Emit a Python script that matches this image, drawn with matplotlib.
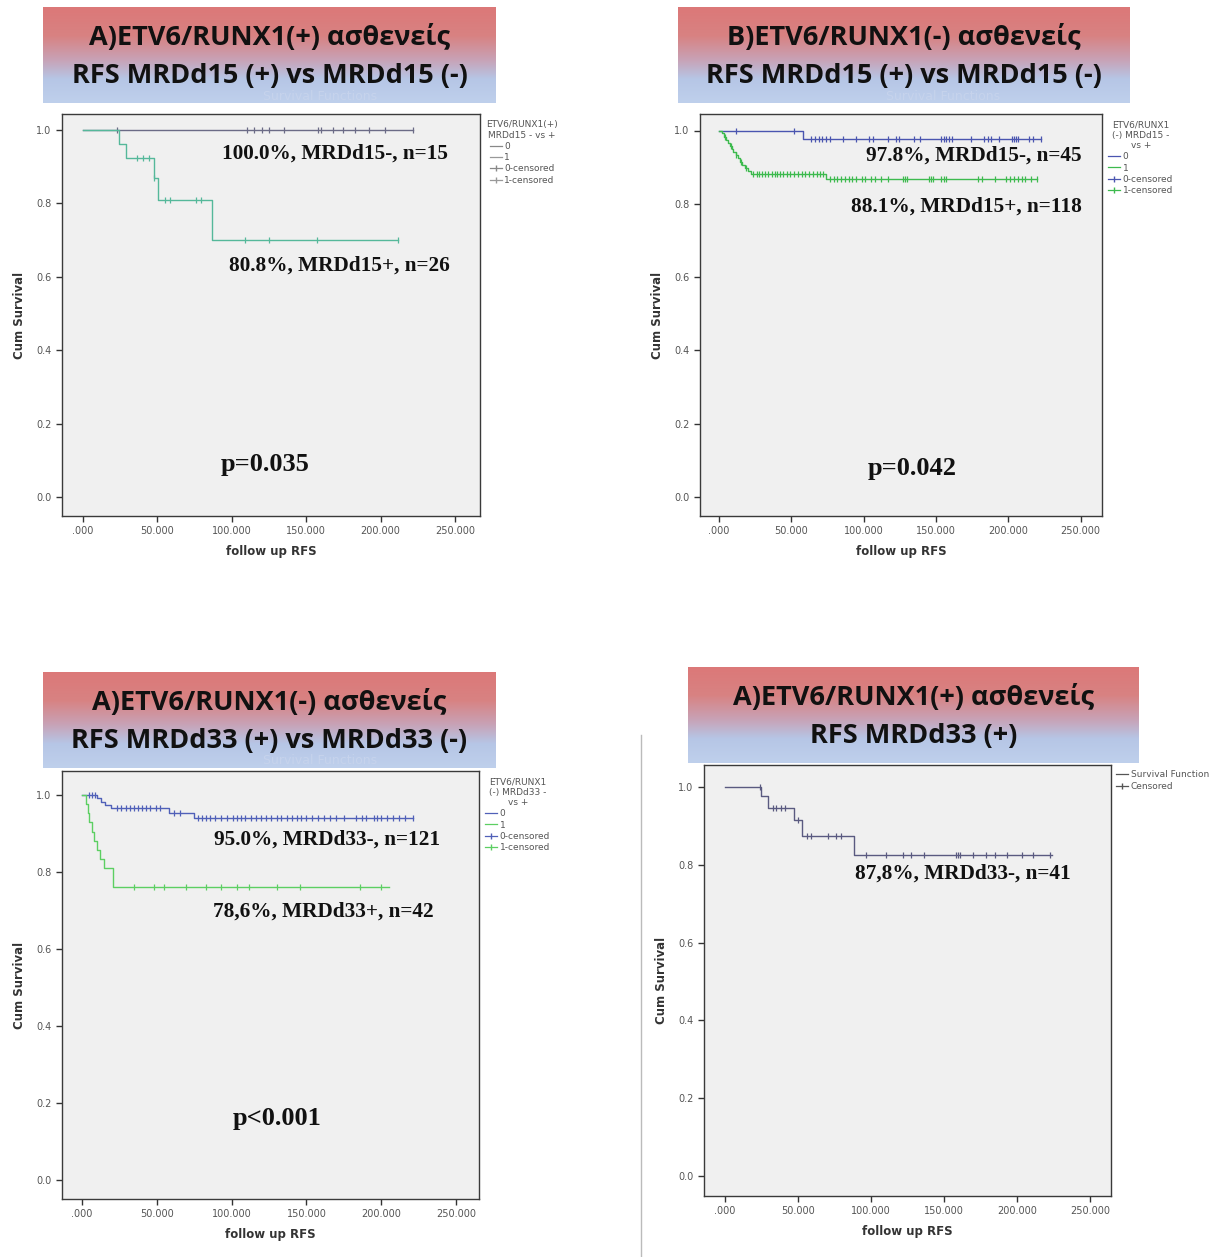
import numpy as np
import matplotlib
matplotlib.use("Agg")
import matplotlib.pyplot as plt
from matplotlib.colors import LinearSegmentedColormap
from matplotlib.lines import Line2D

W, H = 1229, 1257

# ---- data ----
# panel A: ETV6/RUNX1(+) MRDd15
a_neg_events, a_neg_surv, a_neg_end = [], [], 222
a_neg_cens = [23, 110, 115, 120, 125, 135, 158, 160, 168, 175, 183, 192, 203, 222]
a_pos_events = [24, 29, 48, 50.5, 87]
a_pos_surv = [0.962, 0.923, 0.870, 0.808, 0.700]
a_pos_end = 212
a_pos_cens = [36.5, 40.5, 44.5, 48, 55, 58.5, 76, 79.5, 109, 125, 157, 212]

# panel B: ETV6/RUNX1(-) MRDd15
b_neg_events, b_neg_surv, b_neg_end = [58.4], [0.978], 223
b_neg_cens = [11.7, 51.9, 63.6, 66.2, 68.9, 71.4, 74.0, 76.6, 85.7, 94.8, 103.9, 106.5,
              116.9, 122.1, 124.7, 135.1, 139.0, 153.3, 155.4, 157.2, 159.0, 161.1,
              174.1, 183.2, 185.8, 188.4, 193.6, 202.7, 204.0, 205.3, 206.6, 214.4,
              217.0, 223.0]
b_pos_events = [2, 3.5, 5, 6, 7.5, 9, 10, 11.5, 13, 14.5, 16, 18, 20, 22, 74]
b_pos_surv = [0.992, 0.983, 0.975, 0.966, 0.958, 0.949, 0.941, 0.932, 0.924, 0.915,
              0.907, 0.898, 0.890, 0.881, 0.868]
b_pos_end = 220
b_pos_cens = [4, 8, 12, 15, 19, 23.4, 26, 28, 29.9, 31.7, 33.8, 36.4, 38.4, 40.3, 42.1,
              44.2, 46.8, 49.4, 52, 54.6, 57.2, 59.8, 62.4, 65, 67.6, 69.6, 72.2,
              76.7, 79.3, 81.9, 84.5, 87.1, 89.7, 92.2, 94.8, 98.7, 101.3, 105.2, 107.8,
              111.7, 116.9, 127.3, 128.6, 129.9, 145.5, 146.8, 148.1, 153.3, 155.9,
              157.2, 179.3, 181.9, 191, 198.8, 201.4, 204, 206.6, 209.2, 211.8, 215.7,
              219.6]

# panel C: ETV6/RUNX1(-) MRDd33
c_neg_events = [10, 12.6, 15.2, 19.2, 58.3, 74.7]
c_neg_surv = [0.992, 0.983, 0.975, 0.967, 0.954, 0.940]
c_neg_end = 221
c_neg_cens = [5, 7, 9, 23.1, 25.8, 29.2, 32.4, 35, 37.7, 40.3, 43, 45.6, 49.6, 52.2,
              61.4, 65.4, 77.3, 80.5, 83.1, 85.8, 89.2, 93.2, 97.1, 101.1, 103.7, 106.4,
              109, 113, 116.4, 119.6, 122.7, 126.2, 130.1, 133.3, 136.7, 140.2, 143.4,
              146.5, 150, 153.9, 157.9, 161.8, 165.8, 169.8, 175.1, 183, 187, 189.6,
              194.9, 197.5, 200.2, 204.1, 208.1, 212, 216, 221.3]
c_pos_events = [3, 4, 5, 6.5, 8, 10, 12, 15, 21]
c_pos_surv = [0.976, 0.952, 0.929, 0.905, 0.881, 0.857, 0.833, 0.810, 0.762]
c_pos_end = 205
c_pos_cens = [35, 48.2, 54.8, 69.4, 82.6, 93.2, 103.7, 111.6, 130.1, 146, 185.6, 200.2]

# panel D: ETV6/RUNX1(+) MRDd33
d_events = [24.7, 29.4, 47.4, 52.5, 88.1]
d_surv = [0.976, 0.946, 0.916, 0.874, 0.826]
d_end = 224
d_cens = [23.7, 33.2, 35, 38.4, 41, 50, 56.4, 59, 70.6, 75.7, 79.6, 96.3, 110.5, 122.1,
          127.2, 136.2, 158.1, 159.4, 160.7, 169.7, 178.7, 185.1, 192.9, 203.2, 210.9,
          222.5]

xticks = [0, 50, 100, 150, 200, 250]
xtick_labels = [".000", "50.000", "100.000", "150.000", "200.000", "250.000"]
yticks = [0.0, 0.2, 0.4, 0.6, 0.8, 1.0]

fig = plt.figure(figsize=(W / 100, H / 100), dpi=100)
fig.patch.set_facecolor("white")


def fx(x):
    return x / W


def fy(y):
    return 1 - y / H


def make_axes(L, R, T, B, x0, x250, y1, y0):
    ax = fig.add_axes([fx(L), fy(B), (R - L) / W, (B - T) / H])
    ux = 250 / (x250 - x0)
    uy = 1 / (y0 - y1)
    ax.set_xlim((L - x0) * ux, (R - x0) * ux)
    ax.set_ylim(-(B - y0) * uy, 1 + (y1 - T) * uy)
    ax.set_facecolor("#f0f0f0")
    for s in ax.spines.values():
        s.set_color("#3a3a3a")
        s.set_linewidth(1.0)
    ax.set_xticks(xticks)
    ax.set_xticklabels(xtick_labels)
    ax.set_yticks(yticks)
    ax.set_yticklabels([f"{v:.1f}" for v in yticks])
    ax.tick_params(labelsize=7, colors="#333333", labelcolor="#555555", length=4, width=1)
    ax.set_xlabel("follow up RFS", fontsize=8.5, fontweight="bold", color="#333333", labelpad=6)
    ax.set_ylabel("Cum Survival", fontsize=8.5, fontweight="bold", color="#333333", labelpad=7)
    return ax


def km(ax, events, surv, end, cens, color):
    t = [0] + list(events) + [end]
    s = [1.0] + list(surv) + [surv[-1] if surv else 1.0]
    ax.step(t, s, where="post", color=color, lw=1.0)
    idx = np.searchsorted(np.array(t), np.array(cens), side="right") - 1
    cy = np.array(s)[np.clip(idx, 0, len(s) - 1)]
    ax.plot(cens, cy, ls="none", marker="|", ms=5, mew=0.9, color=color)


def title_box(L, R, T, B, line1, line2):
    bax = fig.add_axes([fx(L), fy(B), (R - L) / W, (B - T) / H])
    cmap = LinearSegmentedColormap.from_list(
        "rb", [(0, "#dc7878"), (0.3, "#d88282"), (0.55, "#c8a2b6"), (0.75, "#b6c6e6"), (1, "#bfd0ec")])
    grad = np.linspace(0, 1, 256).reshape(-1, 1)
    bax.imshow(grad, cmap=cmap, aspect="auto", extent=[0, 1, 1, 0])
    bax.set_xlim(0, 1)
    bax.set_ylim(1, 0)
    bax.axis("off")
    cx = (L + R) / 2
    fig.text(fx(cx), fy(T + (B - T) * 0.32), line1, ha="center", va="center",
             fontsize=19.5, fontweight="bold", family=["Open Sans", "DejaVu Sans"], color="#111111")
    fig.text(fx(cx), fy(T + (B - T) * 0.72), line2, ha="center", va="center",
             fontsize=19.5, fontweight="bold", family=["Open Sans", "DejaVu Sans"], color="#111111")


def note(x, y, s, size=15.3):
    fig.text(fx(x), fy(y), s, ha="left", va="center", fontsize=size, fontweight="bold",
             family=["Liberation Serif", "DejaVu Serif"], color="#111111", zorder=10)


def legend(ax, title, c0, c1):
    handles = [Line2D([], [], color=c0, lw=0.9), Line2D([], [], color=c1, lw=0.9),
               Line2D([], [], color=c0, lw=0.9, marker="|", ms=5),
               Line2D([], [], color=c1, lw=0.9, marker="|", ms=5)]
    lg = ax.legend(handles, ["0", "1", "0-censored", "1-censored"], title=title,
                   loc="upper left", bbox_to_anchor=(1.0, 1.0), frameon=False,
                   fontsize=6.5, title_fontsize=6.5, handlelength=1.3, handletextpad=0.3,
                   labelspacing=0.25, borderaxespad=0.3)
    for t in lg.get_texts():
        t.set_color("#555555")
    lg.get_title().set_color("#555555")
    lg.get_title().set_multialignment("center")


# ---- panel A ----
col_a0, col_a1 = "#6b6b86", "#55b89a"
axA = make_axes(62, 480, 114, 516, 83, 455, 130, 497)
km(axA, a_neg_events, a_neg_surv, a_neg_end, a_neg_cens, col_a0)
km(axA, a_pos_events, a_pos_surv, a_pos_end, a_pos_cens, col_a1)
legend(axA, "ETV6/RUNX1(+)\nMRDd15 - vs +", "#888888", "#999999")

# ---- panel B ----
col_b0, col_b1 = "#4a55b0", "#3dba4e"
axB = make_axes(700, 1102, 114, 516, 719, 1080.5, 130.5, 497)
km(axB, b_neg_events, b_neg_surv, b_neg_end, b_neg_cens, col_b0)
km(axB, b_pos_events, b_pos_surv, b_pos_end, b_pos_cens, col_b1)
legend(axB, "ETV6/RUNX1\n(-) MRDd15 -\nvs +", col_b0, col_b1)

# ---- panel C ----
col_c0, col_c1 = "#5060b8", "#5ccf62"
axC = make_axes(62, 479, 771, 1199, 82, 456, 795, 1180)
km(axC, c_neg_events, c_neg_surv, c_neg_end, c_neg_cens, col_c0)
km(axC, c_pos_events, c_pos_surv, c_pos_end, c_pos_cens, col_c1)
legend(axC, "ETV6/RUNX1\n(-) MRDd33 -\nvs +", col_c0, col_c1)

# ---- panel D ----
col_d = "#5a5a80"
axD = make_axes(704, 1111, 765, 1196, 725, 1090, 787, 1176)
km(axD, d_events, d_surv, d_end, d_cens, col_d)
hd = [Line2D([], [], color="#555555", lw=0.9),
      Line2D([], [], color="#555555", lw=0.9, marker="|", ms=5)]
lgd = axD.legend(hd, ["Survival Function", "Censored"], loc="upper left",
                 bbox_to_anchor=(1.0, 1.0), frameon=False, fontsize=6.5,
                 handlelength=1.3, handletextpad=0.3, labelspacing=0.25, borderaxespad=0.2)
for t in lgd.get_texts():
    t.set_color("#555555")

# faint original titles behind the boxes
for cx, cy in [(320, 96), (943, 96), (320, 760)]:
    fig.text(fx(cx), fy(cy), "Survival Functions", ha="center", va="center",
             fontsize=9, color="#c6d3ec", zorder=12)

# title boxes
title_box(43, 496, 7, 103, "A)ETV6/RUNX1(+) ασθενείς", "RFS MRDd15 (+) vs MRDd15 (-)")
title_box(678, 1130, 7, 103, "B)ETV6/RUNX1(-) ασθενείς", "RFS MRDd15 (+) vs MRDd15 (-)")
title_box(43, 496, 672, 768, "A)ETV6/RUNX1(-) ασθενείς", "RFS MRDd33 (+) vs MRDd33 (-)")
title_box(688, 1139, 667, 763, "A)ETV6/RUNX1(+) ασθενείς", "RFS MRDd33 (+)")

# annotations
note(222, 154, "100.0%, MRDd15-, n=15")
note(229, 266, "80.8%, MRDd15+, n=26")
note(221, 465, "p=0.035", 19)
note(866, 156, "97.8%, MRDd15-, n=45")
note(851, 207, "88.1%, MRDd15+, n=118")
note(868, 469, "p=0.042", 19)
note(214, 840, "95.0%, MRDd33-, n=121")
note(213, 912, "78,6%, MRDd33+, n=42")
note(233, 1119, "p<0.001", 19)
note(855, 874, "87,8%, MRDd33-, n=41")

# separator line
fig.add_artist(Line2D([fx(641), fx(641)], [fy(735), fy(1257)], color="#bbbbbb", lw=1))

fig.savefig("out.png", dpi=100)
